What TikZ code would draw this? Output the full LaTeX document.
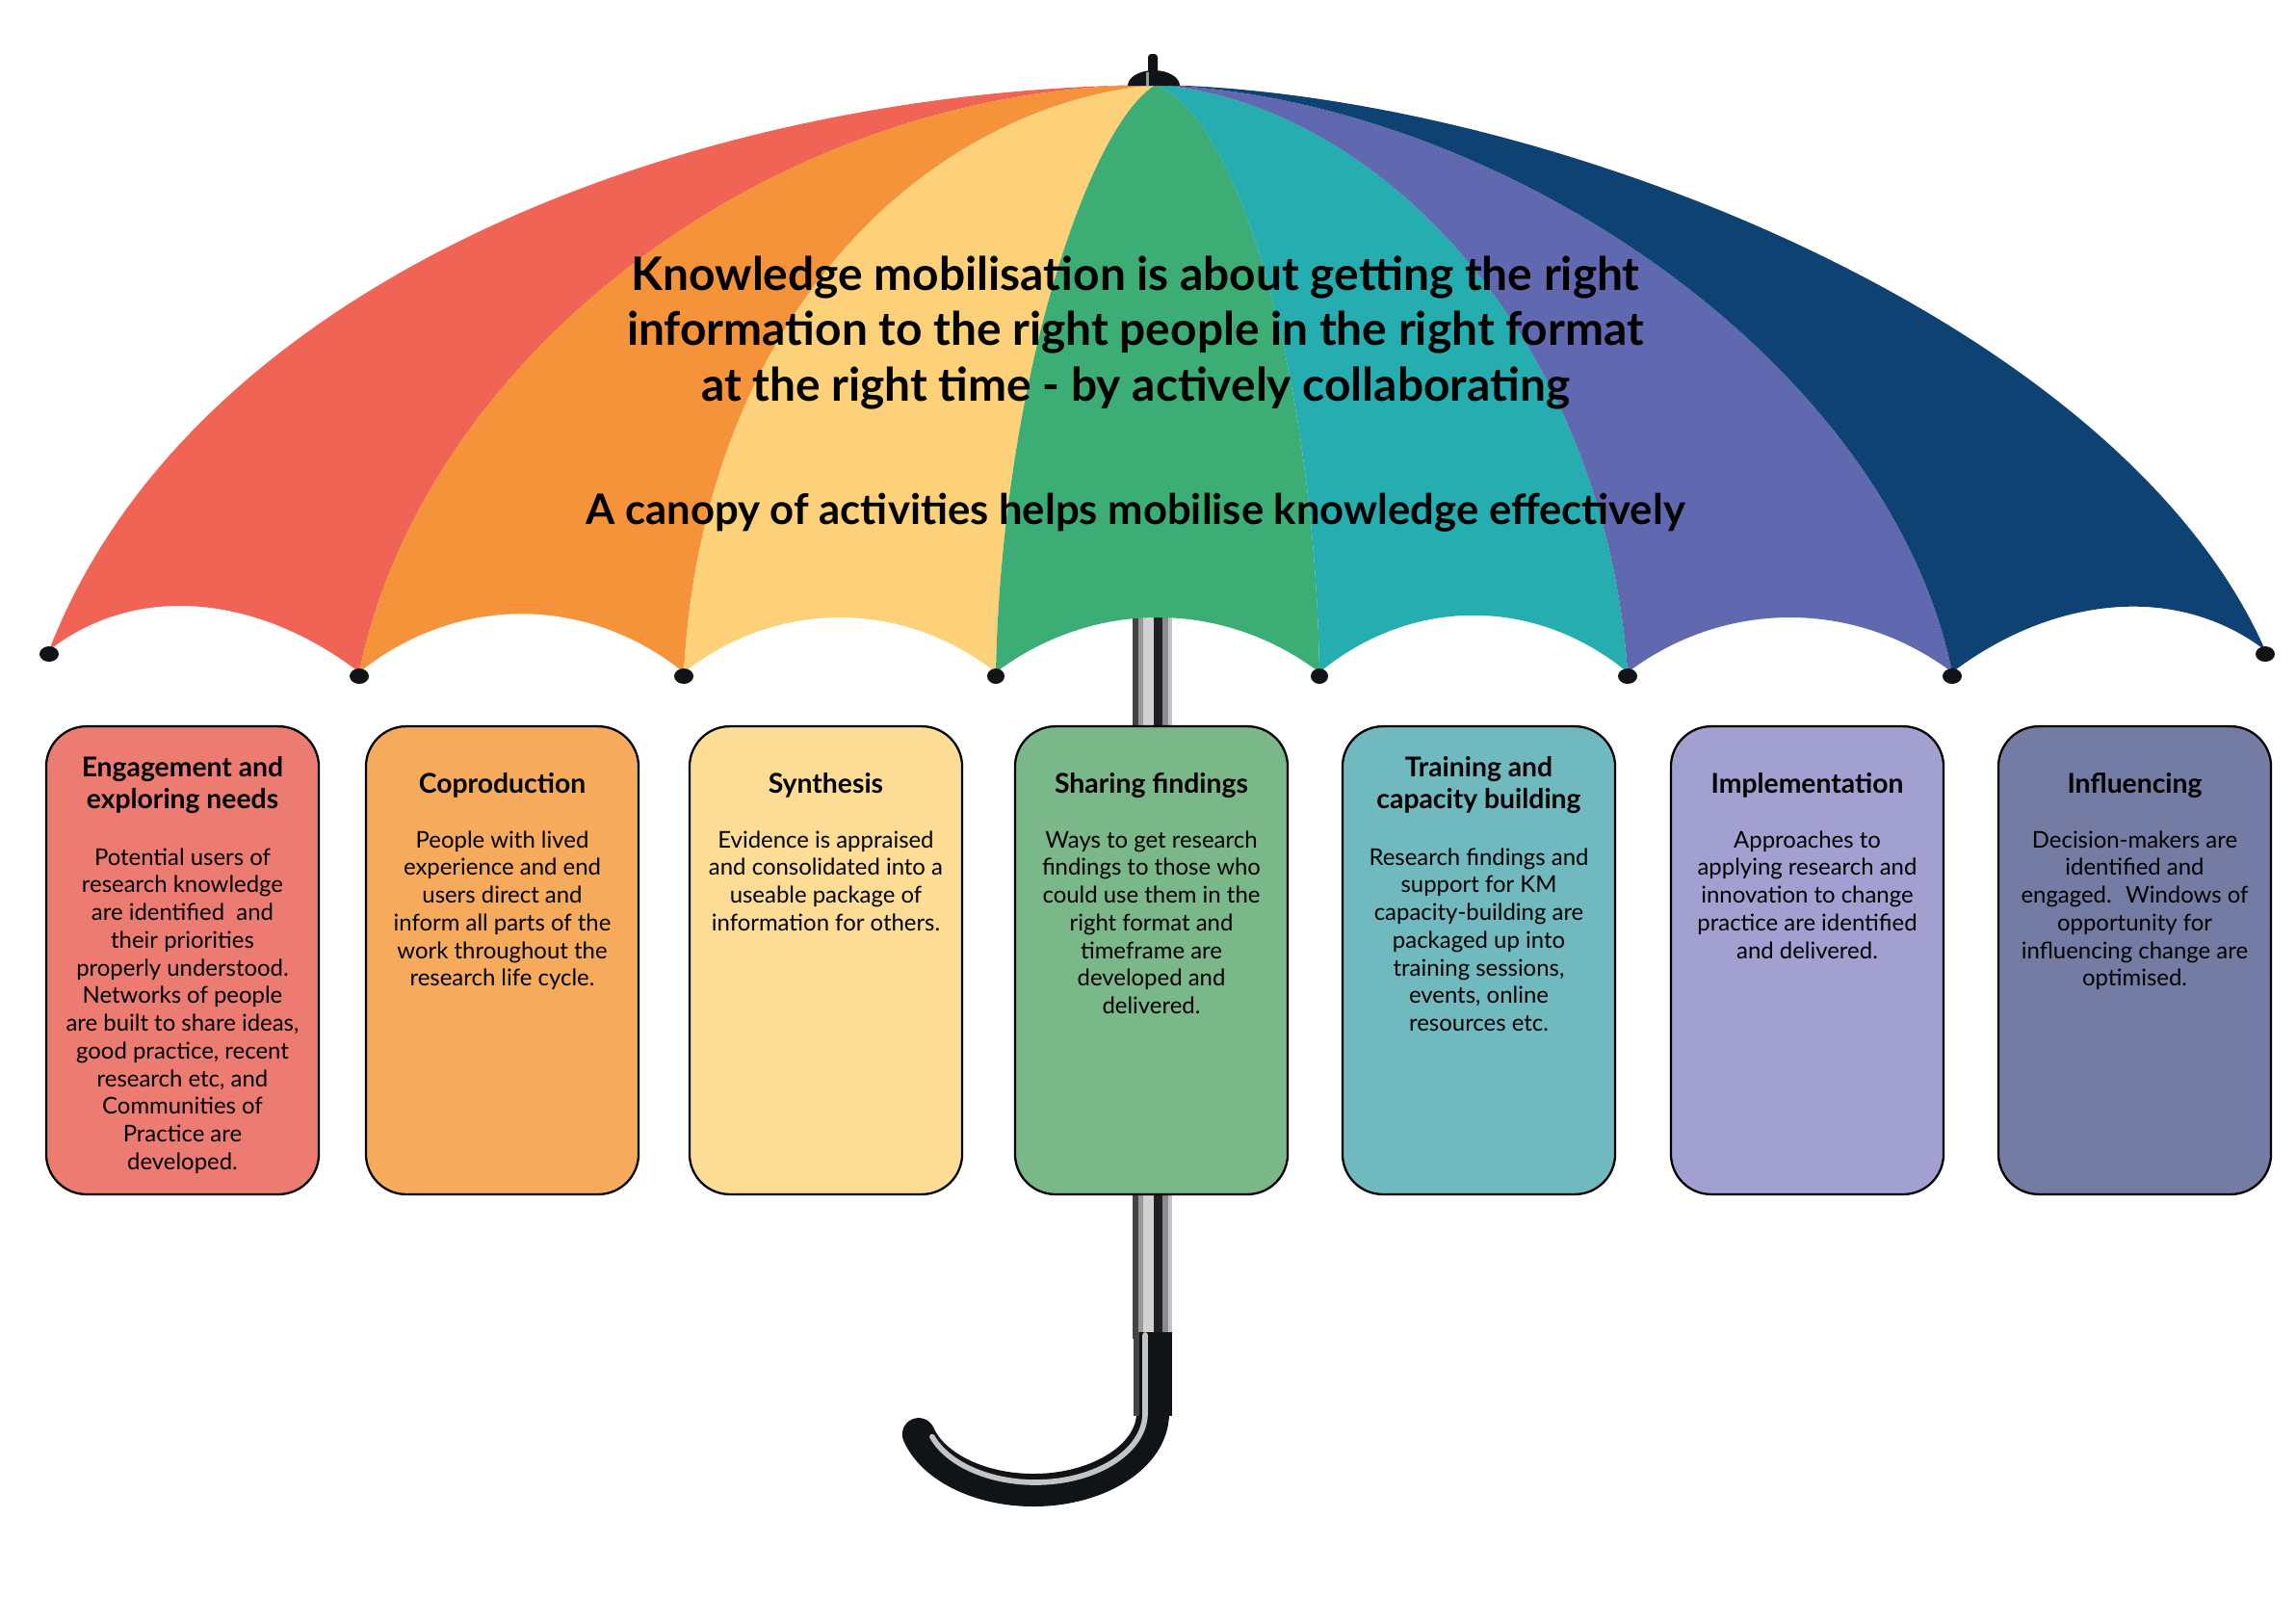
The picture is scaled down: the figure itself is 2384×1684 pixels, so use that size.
\documentclass[tikz,border=0pt]{standalone}
\usepackage{fontspec}
\setmainfont{Lato}
\definecolor{cRed}{HTML}{EF6455}
\definecolor{cOrange}{HTML}{F4933A}
\definecolor{cYellow}{HTML}{FDD07A}
\definecolor{cGreen}{HTML}{3CAD74}
\definecolor{cTeal}{HTML}{26ADB0}
\definecolor{cPurple}{HTML}{6068B0}
\definecolor{cNavy}{HTML}{0E4272}
\definecolor{bRed}{HTML}{EC7C72}
\definecolor{bOrange}{HTML}{F6AB5C}
\definecolor{bYellow}{HTML}{FDDC96}
\definecolor{bGreen}{HTML}{7BB889}
\definecolor{bTeal}{HTML}{6FB9BF}
\definecolor{bPurple}{HTML}{A2A0D0}
\definecolor{bNavy}{HTML}{747CA3}
\definecolor{mA}{HTML}{444444}
\definecolor{mB}{HTML}{999999}
\definecolor{mC}{HTML}{D2D2D2}
\definecolor{mD}{HTML}{1E2024}
\definecolor{mE}{HTML}{8C8C8C}
\definecolor{mF}{HTML}{C4C4C4}
\definecolor{ink}{HTML}{111417}
\begin{document}
\begin{tikzpicture}[x=0.3532pt,y=-0.3532pt,
  kbox/.style={draw=black, line width=0.8pt, rounded corners=14.8pt,
    minimum width=100pt, minimum height=171.6pt, inner sep=0pt},
  ktitle/.style={font=\fontsize{10}{11.66}\selectfont\bfseries, align=center,
    anchor=north, inner sep=0pt},
  kbody/.style={font=\fontsize{8.45}{10.15}\selectfont, align=center,
    anchor=north, inner sep=0pt},
  headline/.style={font=\fontsize{16.9}{20}\selectfont\bfseries, anchor=base,
    inner sep=0pt},
  subline/.style={font=\fontsize{15.4}{20}\selectfont\bfseries, anchor=base,
    inner sep=0pt},
  tipdot/.style={fill=ink}]
\useasboundingbox (0,0) rectangle (2384,1684);

% ---------- shaft (behind) ----------
\fill[mA] (1176,600) rectangle (1182,1390);
\fill[mB] (1182,600) rectangle (1187,1390);
\fill[mC] (1187,600) rectangle (1198,1390);
\fill[mD] (1198,600) rectangle (1207,1390);
\fill[mE] (1207,600) rectangle (1213,1390);
\fill[mF] (1213,600) rectangle (1217,1390);

% ---------- canopy geometry ----------
\coordinate (A) at (1200,88);
\coordinate (T0) at (51,675);
\coordinate (T1) at (373,698);
\coordinate (T2) at (710,698);
\coordinate (T3) at (1034,698);
\coordinate (T4) at (1370,698);
\coordinate (T5) at (1690,698);
\coordinate (T6) at (2027,698);
\coordinate (T7) at (2352,675);
\coordinate (E0a) at (720,92);   \coordinate (E0b) at (200,290);
\coordinate (R1a) at (800,90);   \coordinate (R1b) at (440,370);
\coordinate (R2a) at (960,110);  \coordinate (R2b) at (730,330);
\coordinate (R3a) at (1130,130); \coordinate (R3b) at (1040,400);
\coordinate (R4a) at (1290,125); \coordinate (R4b) at (1365,400);
\coordinate (R5a) at (1430,105); \coordinate (R5b) at (1665,350);
\coordinate (R6a) at (1550,100); \coordinate (R6b) at (1960,370);
\coordinate (E7a) at (1600,95);  \coordinate (E7b) at (2200,330);
\coordinate (S0a) at (148,600);  \coordinate (S0b) at (276,623);
\coordinate (S1a) at (474,617);  \coordinate (S1b) at (609,617);
\coordinate (S2a) at (807,622);  \coordinate (S2b) at (937,622);
\coordinate (S3a) at (1135,622); \coordinate (S3b) at (1269,622);
\coordinate (S4a) at (1466,619); \coordinate (S4b) at (1594,619);
\coordinate (S5a) at (1791,622); \coordinate (S5b) at (1926,622);
\coordinate (S6a) at (2124,624); \coordinate (S6b) at (2254,601);

\fill[cRed] (A) .. controls (E0a) and (E0b) .. (T0)
  .. controls (S0a) and (S0b) .. (T1) .. controls (R1b) and (R1a) .. (A) -- cycle;
\fill[cOrange] (A) .. controls (R1a) and (R1b) .. (T1)
  .. controls (S1a) and (S1b) .. (T2) .. controls (R2b) and (R2a) .. (A) -- cycle;
\fill[cYellow] (A) .. controls (R2a) and (R2b) .. (T2)
  .. controls (S2a) and (S2b) .. (T3) .. controls (R3b) and (R3a) .. (A) -- cycle;
\fill[cGreen] (A) .. controls (R3a) and (R3b) .. (T3)
  .. controls (S3a) and (S3b) .. (T4) .. controls (R4b) and (R4a) .. (A) -- cycle;
\fill[cTeal] (A) .. controls (R4a) and (R4b) .. (T4)
  .. controls (S4a) and (S4b) .. (T5) .. controls (R5b) and (R5a) .. (A) -- cycle;
\fill[cPurple] (A) .. controls (R5a) and (R5b) .. (T5)
  .. controls (S5a) and (S5b) .. (T6) .. controls (R6b) and (R6a) .. (A) -- cycle;
\fill[cNavy] (A) .. controls (R6a) and (R6b) .. (T6)
  .. controls (S6a) and (S6b) .. (T7) .. controls (E7b) and (E7a) .. (A) -- cycle;

% tip dots
\fill[tipdot] (51,679) ellipse[x radius=10, y radius=8];
\fill[tipdot] (373,702) ellipse[x radius=10, y radius=8];
\fill[tipdot] (710,702) ellipse[x radius=10, y radius=8];
\fill[tipdot] (1034,702) ellipse[x radius=9, y radius=8];
\fill[tipdot] (1370,702) ellipse[x radius=9, y radius=8];
\fill[tipdot] (1690,702) ellipse[x radius=10, y radius=8];
\fill[tipdot] (2027,702) ellipse[x radius=10, y radius=8];
\fill[tipdot] (2352,679) ellipse[x radius=10, y radius=8];

% ferrule
\fill[ink] (1171,89) arc[start angle=180, end angle=360, x radius=27, y radius=16] -- cycle;
\fill[ink, rounded corners=1.2pt] (1192,56) rectangle (1202,76);
\fill[mB] (1190,75) rectangle (1193,89);

% ---------- headline ----------
\node[headline] (h1) at (1179,301) {Knowledge mobilisation is about getting the right};
\node[headline] (h2) at (1179,358) {information to the right people in the right format};
\node[headline] (h3) at (1179,416) {at the right time - by actively collaborating};
\node[subline] (h4) at (1179,544) {A canopy of activities helps mobilise knowledge effectively};

% ---------- boxes ----------
\node[kbox, fill=bRed]    (b1) at (189.5,997) {};
\node[kbox, fill=bOrange] (b2) at (521.5,997) {};
\node[kbox, fill=bYellow] (b3) at (857.5,997) {};
\node[kbox, fill=bGreen]  (b4) at (1195.5,997) {};
\node[kbox, fill=bTeal]   (b5) at (1535.5,997) {};
\node[kbox, fill=bPurple] (b6) at (1876.5,997) {};
\node[kbox, fill=bNavy]   (b7) at (2216.5,997) {};

\node[ktitle] (t1) at (189.5,784.5) {Engagement and\\exploring needs};
\node[ktitle] (t2) at (521.5,801.5) {Coproduction};
\node[ktitle] (t3) at (857.5,801.5) {Synthesis};
\node[ktitle] (t4) at (1195.5,801.5) {Sharing findings};
\node[ktitle] (t5) at (1535.5,784.5) {Training and\\capacity building};
\node[ktitle] (t6) at (1876.5,801.5) {Implementation};
\node[ktitle] (t7) at (2216.5,801.5) {Influencing};

\node[kbody] (d1) at (189.5,880) {Potential users of\\research knowledge\\are identified~ and\\their priorities\\properly understood.\\Networks of people\\are built to share ideas,\\good practice, recent\\research etc, and\\Communities of\\Practice are\\developed.};
\node[kbody] (d2) at (521.5,862) {People with lived\\experience and end\\users direct and\\inform all parts of the\\work throughout the\\research life cycle.};
\node[kbody] (d3) at (857.5,862) {Evidence is appraised\\and consolidated into a\\useable package of\\information for others.};
\node[kbody] (d4) at (1195.5,862) {Ways to get research\\findings to those who\\could use them in the\\right format and\\timeframe are\\developed and\\delivered.};
\node[kbody] (d5) at (1535.5,880) {Research findings and\\support for KM\\capacity-building are\\packaged up into\\training sessions,\\events, online\\resources etc.};
\node[kbody] (d6) at (1876.5,862) {Approaches to\\applying research and\\innovation to change\\practice are identified\\and delivered.};
\node[kbody] (d7) at (2216.5,862) {Decision-makers are\\identified and\\engaged.~ Windows of\\opportunity for\\influencing change are\\optimised.};

% ---------- handle ----------
\draw[ink, line width=12pt, line cap=round]
  (1197,1400) -- (1197,1467) arc[start angle=0, end angle=164, x radius=124, y radius=80];
\fill[ink] (1177,1383) rectangle (1217,1470);
\fill[mA] (1177,1383) rectangle (1183,1470);
\draw[mF, line width=2pt, line cap=round]
  (1189,1386) -- (1189,1467) arc[start angle=0, end angle=160, x radius=114, y radius=72];
\end{tikzpicture}
\end{document}
